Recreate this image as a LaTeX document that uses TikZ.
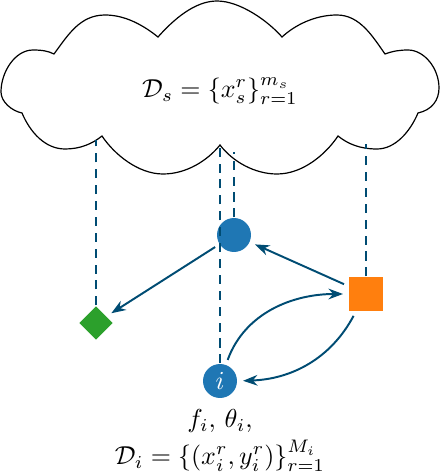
\documentclass[tikz,border=0pt]{standalone}
\usepackage{amsmath}
\usetikzlibrary{positioning,arrows.meta,shapes.geometric}
\definecolor{LinkBlue}{RGB}{0,76,115}
\definecolor{ClientBlue}{RGB}{31,119,180}
\definecolor{ServerOrange}{RGB}{255,127,14}
\definecolor{PeerGreen}{RGB}{44,160,44}
\begin{document}
\begin{tikzpicture}[
      x=0.3333pt,y=0.3333pt,
      >={Stealth[length=1.7mm,width=1.25mm]},
      dev/.style={circle,fill=ClientBlue,inner sep=0pt,minimum size=11.33pt},
      hub/.style={rectangle,fill=ServerOrange,inner sep=0pt,minimum size=11.33pt},
      peer/.style={diamond,fill=PeerGreen,inner sep=0pt,minimum size=11.33pt},
      lab/.style={scale=0.865,inner sep=0pt},
      arrow/.style={->,line width=0.65pt,draw=LinkBlue,shorten >=1.8pt,shorten <=1.6pt},
      link/.style={line width=0.6pt,draw=LinkBlue,dash pattern=on 3pt off 2.3pt}]
    \useasboundingbox (0,0) rectangle (440,472);
    % cloud outline
    \draw[line width=0.4pt] (54,418)
      .. controls (68,437) and (80,457) .. (105,457)
      .. controls (125,457) and (143,447) .. (158,435)
      .. controls (174,453) and (195,471) .. (217,471)
      .. controls (240,471) and (268,451) .. (282,435)
      .. controls (295,447) and (315,457) .. (337,457)
      .. controls (360,457) and (373,435) .. (385,418)
      .. controls (393,421) and (400,422) .. (408,422)
      .. controls (424,422) and (439,404) .. (439,384)
      .. controls (439,372) and (432,362) .. (418,359)
      .. controls (410,340) and (395,323) .. (377,323)
      .. controls (360,323) and (348,328) .. (338,336)
      .. controls (326,318) and (303,298) .. (277,298)
      .. controls (255,298) and (233,310) .. (220,327)
      .. controls (208,312) and (187,298) .. (163,298)
      .. controls (138,298) and (114,318) .. (102,336)
      .. controls (92,328) and (80,323) .. (65,323)
      .. controls (45,323) and (30,340) .. (22,359)
      .. controls (12,361) and (1,370) .. (1,380)
      .. controls (1,400) and (15,422) .. (33,422)
      .. controls (42,422) and (48,421) .. (54,418) -- cycle;
    \node[lab] (pool) at (220,381) {$\mathcal{D}_s=\{x_s^r\}_{r=1}^{m_s}$};
    \node[dev] (top) at (234,237) {};
    \node[hub] (sq) at (366,178) {};
    \node[peer] (dm) at (96,149) {};
    \node[dev,text=white] (me) at (220,91) {\scalebox{0.865}{$i$}};
    \node[lab,below=3.5pt of me] (params) {$f_i,\,\theta_i,$};
    \node[lab,below=2.2pt of params] (data) {$\mathcal{D}_i=\{(x_i^r,y_i^r)\}_{r=1}^{M_i}$};
    \coordinate (c1) at (96,332);
    \coordinate (c2) at (220,330);
    \coordinate (c3) at (234,320);
    \coordinate (c4) at (366,328);
    \foreach \x/\y in {dm/c1,me/c2,top/c3,sq/c4}
      \draw[link] (\x) -- (\y);
    \draw[arrow] (top) -- (dm);
    \draw[arrow] (sq) -- (top);
    \draw[arrow] (me.70) to[out=70,in=180] (sq.west);
    \draw[arrow] (sq.240) to[out=242,in=2] (me.east);
  \end{tikzpicture}
\end{document}
